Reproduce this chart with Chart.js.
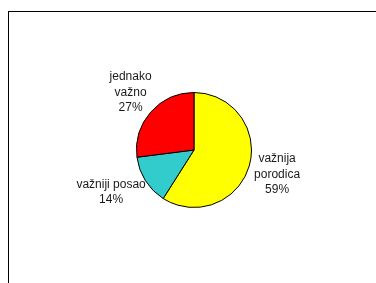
<!DOCTYPE html>
<html>
<head>
<meta charset="utf-8">
<script src="https://cdn.jsdelivr.net/npm/chart.js@4/dist/chart.umd.min.js"></script>
<style>
  html, body { margin: 0; padding: 0; background: #fff; }
  canvas { display: block; }
</style>
</head>
<body>
<canvas id="c" width="376" height="283"></canvas>
<script>
// podaci
const categories = [['važnija', 'porodica'], ['važniji posao'], ['jednako', 'važno']];
const values = [59, 14, 27];
const colors = ['#FFFF00', '#33CCCC', '#FF0000'];

const FONT = "12px 'Liberation Sans', Arial, sans-serif";
const LINE_H = 15.5;

// okvir oko grafikona
const framePlugin = {
    id: 'frame',
    beforeDraw(chart) {
        const ctx = chart.ctx;
        ctx.save();
        ctx.strokeStyle = '#000';
        ctx.lineWidth = 1;
        ctx.strokeRect(8.5, 11.5, 420, 320);
        ctx.restore();
    },
};

// oznake: naziv + procenat, van isečka
const outsideLabels = {
    id: 'outsideLabels',
    afterDatasetsDraw(chart) {
        const ctx = chart.ctx;
        const meta = chart.getDatasetMeta(0);
        const total = values.reduce((a, b) => a + b, 0);
        ctx.save();
        ctx.font = FONT;
        ctx.fillStyle = '#1a1a1a';
        ctx.textAlign = 'center';
        ctx.textBaseline = 'middle';
        meta.data.forEach((arc, i) => {
            const lines = [...categories[i], Math.round(values[i] / total * 100) + '%'];
            const w = Math.max(...lines.map(l => ctx.measureText(l).width));
            const h = lines.length * LINE_H;
            const mid = (arc.startAngle + arc.endAngle) / 2;
            const r = arc.outerRadius + 6;
            const cx = arc.x + r * Math.cos(mid) + (w / 2) * Math.cos(mid);
            const cy = arc.y + r * Math.sin(mid) + (h / 2) * Math.sin(mid);
            lines.forEach((l, k) => {
                ctx.fillText(l, cx, cy - h / 2 + LINE_H * (k + 0.5));
            });
        });
        ctx.restore();
    },
};

new Chart(document.getElementById('c'), {
    type: 'pie',
    data: {
        labels: categories.map(c => c.join(' ')),
        datasets: [{
            data: values,
            backgroundColor: colors,
            borderColor: '#000',
            borderWidth: 1,
        }],
    },
    options: {
        responsive: false,
        devicePixelRatio: 1,
        animation: false,
        layout: { padding: { left: 136, right: 124, top: 92, bottom: 75 } },
        plugins: {
            legend: { display: false },
            tooltip: { enabled: false },
        },
    },
    plugins: [framePlugin, outsideLabels],
});
</script>
</body>
</html>
